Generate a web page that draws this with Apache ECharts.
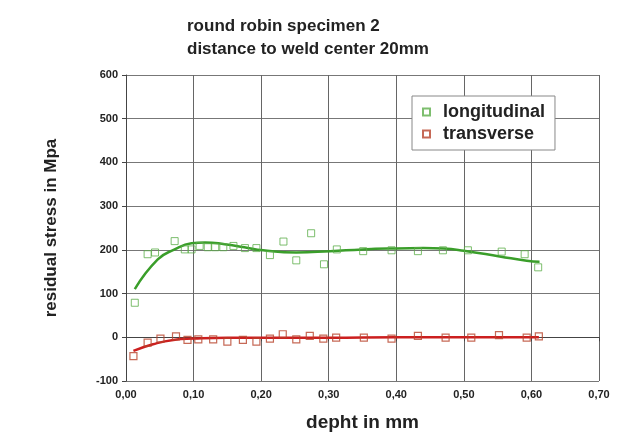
<!DOCTYPE html>
<html>
<head>
<meta charset="utf-8">
<script src="https://cdn.jsdelivr.net/npm/echarts@6/dist/echarts.min.js"></script>
<style>
html,body{margin:0;padding:0;background:#fff;}
#chart{width:639px;height:443px;}
</style>
</head>
<body>
<div id="chart"></div>
<script>
// measured points
var longDepth = [0.013,0.032,0.043,0.072,0.087,0.097,0.109,0.121,0.132,0.144,0.159,0.176,0.193,0.213,0.233,0.252,0.274,0.293,0.312,0.351,0.393,0.432,0.469,0.506,0.556,0.590,0.610];
var longStress = [79,190,194,220,201,201,209,206,206,206,209,204,204,188,219,176,238,167,201,197,199,197,199,199,196,190,160];
var transDepth = [0.011,0.032,0.051,0.074,0.091,0.107,0.129,0.150,0.173,0.193,0.213,0.232,0.252,0.272,0.292,0.311,0.352,0.393,0.432,0.473,0.511,0.552,0.593,0.611];
var transStress = [-43,-12,-3,2,-6,-5,-5,-10,-6,-10,-3,7,-5,3,-3,-1,-1,-3,3,-1,-1,5,-1,2];
// fitted trend lines
var longFitDepth = [0.013,0.047,0.072,0.097,0.117,0.146,0.175,0.203,0.252,0.302,0.350,0.390,0.440,0.470,0.500,0.553,0.593,0.612];
var longFitStress = [110,178,201,215,217,213,206,199,194,197,201,203,204,203,198,185,175,173];
var transFitDepth = [0.011,0.040,0.070,0.100,0.150,0.200,0.300,0.400,0.500,0.611];
var transFitStress = [-31,-16,-6,-3,-1,-1,-1,0,0,0];
var xTicks = ['0,00','0,10','0,20','0,30','0,40','0,50','0,60','0,70'];
var titleLines = ['round robin specimen 2','distance to weld center 20mm'];

function zip(a,b){return a.map(function(v,i){return [v,b[i]];});}
var font = 'Liberation Sans, Arial, sans-serif';
var chart = echarts.init(document.getElementById('chart'));
chart.setOption({
  backgroundColor:'#fff',
  animation:false,
  title:{text:titleLines.join('\n'),left:182,top:10,textStyle:{fontFamily:font,fontSize:17,fontWeight:'bold',color:'#222',lineHeight:23}},
  grid:{left:126,right:40,top:75,bottom:62},
  legend:{
    data:['longitudinal','transverse'],orient:'vertical',left:412,top:96,
    backgroundColor:'#fff',borderColor:'#888',borderWidth:1,padding:[7,10,7,10],
    itemWidth:7,itemHeight:7,itemGap:4,
    textStyle:{fontFamily:font,fontSize:18,fontWeight:'bold',color:'#222',padding:[0,0,0,8]}
  },
  xAxis:{type:'value',min:0,max:0.7,interval:0.1,
    name:'depht in mm',nameLocation:'middle',nameGap:32,
    nameTextStyle:{fontFamily:font,fontSize:19,fontWeight:'bold',color:'#222'},
    axisLine:{show:true,lineStyle:{color:'#444'}},axisTick:{show:true,length:4,lineStyle:{color:'#444'}},
    splitLine:{show:true,lineStyle:{color:'#666',width:1}},
    axisLabel:{fontFamily:font,fontSize:11,fontWeight:'bold',color:'#222',margin:8,
      formatter:function(v){return xTicks[Math.round(v*10)];}}
  },
  yAxis:{type:'value',min:-100,max:600,interval:100,
    name:'residual stress in Mpa',nameLocation:'middle',nameGap:66,nameRotate:90,
    nameTextStyle:{fontFamily:font,fontSize:17,fontWeight:'bold',color:'#222'},
    axisLine:{show:true,lineStyle:{color:'#444'}},axisTick:{show:true,length:4,lineStyle:{color:'#444'}},
    splitLine:{show:true,lineStyle:{color:'#777',width:1}},
    axisLabel:{fontFamily:font,fontSize:11,fontWeight:'bold',color:'#222',margin:8}
  },
  series:[
    {name:'longitudinal fit',type:'line',smooth:true,showSymbol:false,data:zip(longFitDepth,longFitStress),
      lineStyle:{color:'#3a9e2a',width:2.5},z:3},
    {name:'transverse fit',type:'line',smooth:true,showSymbol:false,data:zip(transFitDepth,transFitStress),
      lineStyle:{color:'#cc1f1f',width:2.5},z:3},
    {name:'longitudinal',type:'scatter',symbol:'rect',symbolSize:7,data:zip(longDepth,longStress),
      itemStyle:{color:'rgba(255,255,255,0)',borderColor:'#5cae4a',borderWidth:1},z:4},
    {name:'transverse',type:'scatter',symbol:'rect',symbolSize:7,data:zip(transDepth,transStress),
      itemStyle:{color:'rgba(255,255,255,0)',borderColor:'#b8432c',borderWidth:1.2},z:4}
  ]
});
</script>
</body>
</html>
